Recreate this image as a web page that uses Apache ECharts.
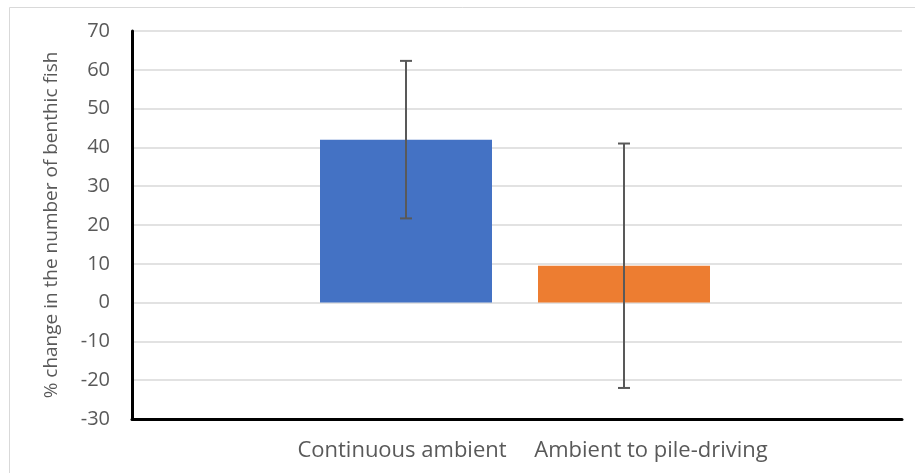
<!DOCTYPE html>
<html>
<head>
<meta charset="utf-8">
<script src="https://cdn.jsdelivr.net/npm/echarts@6/dist/echarts.min.js"></script>
<style>
  html, body { margin: 0; padding: 0; background: #ffffff; }
  #chart { width: 915px; height: 473px; }
</style>
</head>
<body>
<div id="chart"></div>
<script>
// Treatment groups and their mean % change with symmetric error
const categories = ['Continuous ambient', 'Ambient to pile-driving'];
const meanChange = [42, 9.5];
const errorHalf = [20.3, 31.5];
const barColors = ['#4472C4', '#ED7D31'];
const yTicks = { min: -30, max: 70, interval: 10 };
const yTitle = '% change in the number of benthic fish';

const font = '"Open Sans", "Noto Sans", sans-serif';
const textGray = '#595959';

const errorData = categories.map((c, i) => [i, meanChange[i] - errorHalf[i], meanChange[i] + errorHalf[i]]);

const chart = echarts.init(document.getElementById('chart'), null, { renderer: 'canvas' });

chart.setOption({
  animation: false,
  backgroundColor: '#ffffff',
  graphic: [{
    type: 'rect',
    shape: { x: 9.5, y: 7.5, width: 940, height: 500 },
    style: { fill: 'none', stroke: '#d9d9d9', lineWidth: 1 },
    silent: true
  }],
  grid: [
    { left: 132, right: 13, top: 31, bottom: 54 },
    { left: 297, width: 436, top: 31, bottom: 54 }
  ],
  xAxis: [
    {
      gridIndex: 0, type: 'category', data: [''],
      axisLine: { show: true, onZero: false, lineStyle: { color: '#000000', width: 3 } },
      axisTick: { show: false }, axisLabel: { show: false }, splitLine: { show: false }
    },
    {
      gridIndex: 1, type: 'category', data: categories,
      axisLine: { show: false }, axisTick: { show: false },
      axisLabel: {
        margin: 21,
        formatter: (v, i) => i === 1 ? '{b|' + v + '}' : '{a|' + v + '}',
        rich: {
          a: { fontFamily: font, fontSize: 22, color: textGray, padding: [0, 8, 0, 0] },
          b: { fontFamily: font, fontSize: 22, color: textGray, padding: [0, 0, 0, 54] }
        }
      }
    }
  ],
  yAxis: [
    {
      gridIndex: 0, type: 'value', min: yTicks.min, max: yTicks.max, interval: yTicks.interval,
      name: yTitle, nameLocation: 'middle', nameGap: 71,
      nameTextStyle: { fontFamily: font, fontSize: 19, color: textGray },
      axisLine: { show: true, lineStyle: { color: '#000000', width: 3 } },
      axisTick: { show: false },
      axisLabel: { fontFamily: font, fontSize: 20, color: textGray, margin: 22 },
      splitLine: { show: true, lineStyle: { color: '#d9d9d9', width: 1.5 } }
    },
    {
      gridIndex: 1, type: 'value', min: yTicks.min, max: yTicks.max, interval: yTicks.interval,
      show: false, splitLine: { show: false }
    }
  ],
  series: [
    {
      type: 'bar', xAxisIndex: 1, yAxisIndex: 1,
      barWidth: 172,
      data: meanChange.map((v, i) => ({ value: v, itemStyle: { color: barColors[i] } }))
    },
    {
      type: 'custom', xAxisIndex: 1, yAxisIndex: 1, z: 10,
      data: errorData,
      renderItem: (params, api) => {
        const lo = api.coord([api.value(0), api.value(1)]);
        const hi = api.coord([api.value(0), api.value(2)]);
        const cap = 6;
        const style = { stroke: '#595959', lineWidth: 2 };
        return {
          type: 'group',
          children: [
            { type: 'line', shape: { x1: hi[0], y1: hi[1], x2: lo[0], y2: lo[1] }, style },
            { type: 'line', shape: { x1: hi[0] - cap, y1: hi[1], x2: hi[0] + cap, y2: hi[1] }, style },
            { type: 'line', shape: { x1: lo[0] - cap, y1: lo[1], x2: lo[0] + cap, y2: lo[1] }, style }
          ]
        };
      }
    }
  ]
});
</script>
</body>
</html>
